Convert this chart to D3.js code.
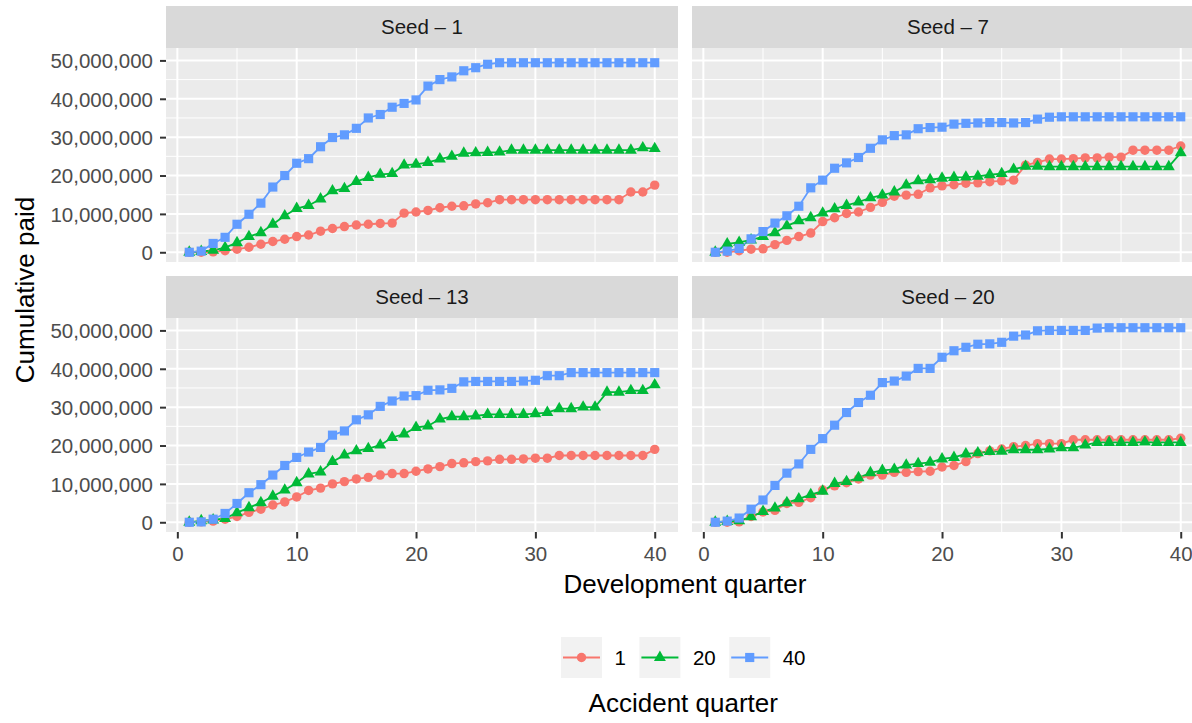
<!DOCTYPE html>
<html>
<head>
<meta charset="utf-8">
<script src="https://cdn.jsdelivr.net/npm/d3@7"></script>
<style>
  body { margin: 0; background: #fff; }
  svg { display: block; font-family: "Liberation Sans", Arial, sans-serif; }
</style>
</head>
<body>
<svg id="chart" width="1192" height="723"></svg>
<script>
// cumulative paid, in millions, for development quarters 1..40
var devQuarters = d3.range(1, 41);
var seeds = ["Seed \u2013 1", "Seed \u2013 7", "Seed \u2013 13", "Seed \u2013 20"];
var accidentQuarters = ["1", "20", "40"];

var seed1_aq1 = [0, 0, 0.1, 0.4, 0.8, 1.3, 2.1, 2.8, 3.4, 4.1, 4.5, 5.5, 6.2, 6.7, 7.1, 7.3, 7.5, 7.6, 10.2, 10.5,
  10.9, 11.6, 12.0, 12.1, 12.6, 12.9, 13.7, 13.7, 13.7, 13.7, 13.7, 13.7, 13.7, 13.7, 13.7, 13.7, 13.7, 15.7, 15.7, 17.5];
var seed1_aq20 = [0, 0.2, 0.5, 1.2, 2.5, 4.1, 5.1, 7.3, 9.5, 11.4, 12.2, 13.9, 16.0, 16.6, 18.4, 19.5, 20.3, 20.5, 22.7, 22.9,
  23.4, 24.3, 25.0, 25.8, 25.9, 26.0, 26.1, 26.6, 26.6, 26.6, 26.6, 26.6, 26.6, 26.6, 26.6, 26.6, 26.6, 26.6, 27.2, 27.0];
var seed1_aq40 = [0, 0.3, 2.3, 3.9, 7.3, 9.9, 12.8, 17.0, 20.0, 23.2, 24.4, 27.5, 29.9, 30.6, 32.3, 35.0, 35.9, 37.8, 38.8, 39.7,
  43.3, 45.0, 45.7, 47.3, 48.1, 49.0, 49.4, 49.4, 49.4, 49.4, 49.4, 49.4, 49.4, 49.4, 49.4, 49.4, 49.4, 49.4, 49.4, 49.4];

var seed7_aq1 = [0, 0, 0.4, 0.8, 0.9, 2.0, 3.1, 4.1, 5.0, 8.0, 9.0, 10.1, 10.5, 11.7, 13.0, 14.6, 14.9, 15.1, 16.8, 17.3,
  17.6, 18.0, 18.1, 18.4, 18.6, 18.8, 22.7, 23.4, 24.3, 24.3, 24.4, 24.6, 24.6, 24.8, 24.8, 26.6, 26.6, 26.6, 26.6, 27.7];
var seed7_aq20 = [0, 2.2, 2.6, 3.2, 4.1, 5.1, 6.9, 8.2, 9.0, 10.2, 11.3, 12.2, 13.1, 14.2, 14.9, 15.7, 17.5, 18.6, 18.9, 19.3,
  19.5, 19.6, 19.8, 20.2, 20.5, 21.6, 22.4, 22.4, 22.3, 22.3, 22.3, 22.3, 22.3, 22.3, 22.3, 22.3, 22.3, 22.3, 22.3, 25.9];
var seed7_aq40 = [0, 0.3, 1.0, 3.5, 5.4, 7.6, 9.5, 12.0, 16.8, 18.8, 21.9, 23.3, 24.7, 27.1, 29.3, 30.4, 30.6, 32.2, 32.5, 32.6,
  33.4, 33.6, 33.7, 33.8, 33.8, 33.7, 33.8, 34.7, 35.2, 35.3, 35.3, 35.3, 35.3, 35.3, 35.3, 35.3, 35.3, 35.3, 35.3, 35.3];

var seed13_aq1 = [0, 0.1, 0.3, 0.8, 1.5, 2.6, 3.4, 4.5, 5.3, 6.6, 8.3, 8.9, 10.0, 10.6, 11.3, 11.7, 12.3, 12.7, 12.7, 13.3,
  13.9, 14.5, 15.3, 15.5, 15.8, 16.0, 16.4, 16.4, 16.5, 16.7, 16.7, 17.4, 17.4, 17.4, 17.4, 17.4, 17.4, 17.4, 17.4, 19.0];
var seed13_aq20 = [0, 0.4, 0.6, 1.0, 2.5, 3.8, 5.1, 6.8, 8.4, 10.3, 12.6, 13.1, 15.8, 17.5, 18.6, 19.2, 20.1, 22.1, 23.0, 24.7,
  25.1, 26.9, 27.5, 27.5, 27.7, 28.1, 28.1, 28.1, 28.1, 28.3, 28.6, 29.6, 29.6, 30.0, 30.0, 33.9, 33.9, 34.3, 34.3, 35.8];
var seed13_aq40 = [0, 0.1, 0.8, 2.3, 4.9, 7.7, 9.8, 12.3, 14.8, 16.9, 18.3, 19.5, 22.7, 23.8, 26.7, 28.0, 30.2, 31.6, 32.9, 33.0,
  34.4, 34.5, 34.9, 36.6, 36.7, 36.7, 36.7, 36.7, 36.8, 37.0, 38.2, 38.2, 39.0, 39.0, 39.0, 39.0, 39.0, 39.0, 39.0, 39.0];

var seed20_aq1 = [0, 0, 0.1, 1.5, 2.7, 3.1, 4.9, 5.2, 6.4, 8.4, 9.5, 10.3, 11.3, 12.3, 12.3, 13.0, 13.0, 13.2, 13.3, 14.4,
  14.8, 15.8, 17.9, 18.6, 19.1, 19.7, 20.0, 20.5, 20.5, 20.5, 21.5, 21.5, 21.5, 21.5, 21.5, 21.5, 21.5, 21.5, 21.5, 21.9];
var seed20_aq20 = [0, 0.2, 0.4, 1.4, 2.8, 3.7, 5.1, 6.1, 7.2, 8.1, 10.1, 10.6, 11.6, 12.9, 13.5, 13.8, 14.9, 15.3, 15.6, 16.5,
  16.9, 17.8, 18.1, 18.4, 18.5, 18.9, 18.9, 18.9, 19.1, 19.4, 19.4, 20.1, 20.8, 20.8, 20.8, 20.8, 20.9, 20.8, 20.8, 20.8];
var seed20_aq40 = [0, 0.3, 1.1, 3.4, 5.8, 9.6, 12.8, 15.2, 19.0, 21.8, 25.3, 28.6, 31.2, 33.1, 36.4, 36.8, 38.1, 40.1, 40.1, 43.0,
  44.7, 45.6, 46.4, 46.5, 46.9, 48.5, 48.8, 49.9, 50.0, 50.0, 50.0, 50.0, 50.6, 50.7, 50.7, 50.7, 50.7, 50.7, 50.7, 50.7];

var xTicks = [0, 10, 20, 30, 40];
var yTicks = [0, 10e6, 20e6, 30e6, 40e6, 50e6];

var panelSeries = [
  [seed1_aq1, seed1_aq20, seed1_aq40],
  [seed7_aq1, seed7_aq20, seed7_aq40],
  [seed13_aq1, seed13_aq20, seed13_aq40],
  [seed20_aq1, seed20_aq20, seed20_aq40]
];

var colors = ["#F8766D", "#00BA38", "#619CFF"];
var shapes = [d3.symbolCircle, d3.symbolTriangle, d3.symbolSquare];
var shapeSizes = [70, 62, 84];

// layout
var svg = d3.select("#chart"),
    padLeft = 166, padTop = 6,
    panelW = 512, panelH = 214,
    stripH = 42, gapX = 14, gapY = 14;

var panels = seeds.map(function(name, i) {
  return {
    name: name,
    col: i % 2,
    row: Math.floor(i / 2),
    series: panelSeries[i].map(function(vals, k) {
      return {
        id: accidentQuarters[k],
        k: k,
        values: vals.map(function(v, j) { return {dev: devQuarters[j], paid: v * 1e6}; })
      };
    })
  };
});

var allPaid = [];
panels.forEach(function(p) { p.series.forEach(function(s) { s.values.forEach(function(d) { allPaid.push(d.paid); }); }); });
var yMin = d3.min(allPaid), yMax = d3.max(allPaid), ySpan = yMax - yMin;

var x = d3.scaleLinear().domain([1 - 0.05 * 39, 40 + 0.05 * 39]).range([0, panelW]);
var y = d3.scaleLinear().domain([yMin - 0.05 * ySpan, yMax + 0.05 * ySpan]).range([panelH, 0]);

var xMinor = [5, 15, 25, 35];
var yMinor = [5e6, 15e6, 25e6, 35e6, 45e6];

var line = d3.line()
  .x(function(d) { return x(d.dev); })
  .y(function(d) { return y(d.paid); });

var fmt = d3.format(",");

var g = svg.selectAll(".panel")
  .data(panels)
  .enter().append("g")
  .attr("class", "panel")
  .attr("transform", function(d) {
    return "translate(" + (padLeft + d.col * (panelW + gapX)) + "," + (padTop + d.row * (stripH + panelH + gapY)) + ")";
  });

// strip
g.append("rect")
  .attr("width", panelW).attr("height", stripH)
  .attr("fill", "#D9D9D9");
g.append("text")
  .attr("x", panelW / 2).attr("y", stripH / 2 + 7)
  .attr("text-anchor", "middle")
  .attr("font-size", 20.5)
  .attr("fill", "#1A1A1A")
  .text(function(d) { return d.name; });

var body = g.append("g").attr("transform", "translate(0," + stripH + ")");

body.append("rect")
  .attr("width", panelW).attr("height", panelH)
  .attr("fill", "#EBEBEB");

// minor grid
body.selectAll(".xminor").data(xMinor).enter().append("line")
  .attr("x1", x).attr("x2", x).attr("y1", 0).attr("y2", panelH)
  .attr("stroke", "#fff").attr("stroke-width", 1);
body.selectAll(".yminor").data(yMinor).enter().append("line")
  .attr("y1", y).attr("y2", y).attr("x1", 0).attr("x2", panelW)
  .attr("stroke", "#fff").attr("stroke-width", 1);
// major grid
body.selectAll(".xmajor").data(xTicks).enter().append("line")
  .attr("x1", x).attr("x2", x).attr("y1", 0).attr("y2", panelH)
  .attr("stroke", "#fff").attr("stroke-width", 2);
body.selectAll(".ymajor").data(yTicks).enter().append("line")
  .attr("y1", y).attr("y2", y).attr("x1", 0).attr("x2", panelW)
  .attr("stroke", "#fff").attr("stroke-width", 2);

// lines first, then points (like geom_line + geom_point)
body.selectAll(".line")
  .data(function(d) { return d.series; })
  .enter().append("path")
  .attr("class", "line")
  .attr("fill", "none")
  .attr("stroke", function(s) { return colors[s.k]; })
  .attr("stroke-width", 1.8)
  .attr("d", function(s) { return line(s.values); });

body.selectAll(".pts")
  .data(function(d) { return d.series; })
  .enter().append("g")
  .attr("class", "pts")
  .each(function(s) {
    d3.select(this).selectAll("path")
      .data(s.values)
      .enter().append("path")
      .attr("transform", function(d) { return "translate(" + x(d.dev) + "," + y(d.paid) + ")"; })
      .attr("d", d3.symbol().type(shapes[s.k]).size(shapeSizes[s.k]))
      .attr("fill", colors[s.k]);
  });

// axes: x on bottom row, y on left column
function styleAxis(sel) {
  sel.select(".domain").remove();
  sel.selectAll(".tick line").attr("stroke", "#333333").attr("stroke-width", 2);
  sel.selectAll(".tick text").attr("fill", "#4D4D4D").attr("font-size", 20.5)
    .attr("font-family", "'Liberation Sans', Arial, sans-serif");
}

body.filter(function(d) { return d.row === 1; })
  .append("g")
  .attr("transform", "translate(0," + panelH + ")")
  .call(d3.axisBottom(x).tickValues(xTicks).tickSize(6.5).tickPadding(8))
  .call(styleAxis);

body.filter(function(d) { return d.col === 0; })
  .append("g")
  .call(d3.axisLeft(y).tickValues(yTicks).tickFormat(fmt).tickSize(6).tickPadding(7))
  .call(styleAxis)
  .selectAll(".tick text").attr("dy", "0.36em");

// axis titles
var plotLeft = padLeft, plotRight = padLeft + 2 * panelW + gapX;
var panelsTop = padTop + stripH, panelsBottom = padTop + 2 * (stripH + panelH) + gapY;

svg.append("text")
  .attr("x", (plotLeft + plotRight) / 2).attr("y", 592.5)
  .attr("text-anchor", "middle").attr("font-size", 26).attr("fill", "#000")
  .text("Development quarter");

svg.append("text")
  .attr("transform", "translate(33.5," + ((panelsTop + panelsBottom) / 2) + ") rotate(-90)")
  .attr("text-anchor", "middle").attr("font-size", 26).attr("fill", "#000")
  .text("Cumulative paid");

// legend
var legend = svg.append("g").attr("class", "legend");
var keySize = 41, keyY = 637, keyLabelGap = 12.5, itemGap = 13.5;
var cursor = 561;
accidentQuarters.forEach(function(aq, k) {
  var item = legend.append("g").attr("transform", "translate(" + cursor + "," + keyY + ")");
  item.append("rect").attr("width", keySize).attr("height", keySize).attr("fill", "#F2F2F2");
  item.append("line")
    .attr("x1", 2).attr("x2", keySize - 2)
    .attr("y1", keySize / 2).attr("y2", keySize / 2)
    .attr("stroke", colors[k]).attr("stroke-width", 1.8);
  item.append("path")
    .attr("transform", "translate(" + keySize / 2 + "," + keySize / 2 + ")")
    .attr("d", d3.symbol().type(shapes[k]).size(shapeSizes[k]))
    .attr("fill", colors[k]);
  var label = item.append("text")
    .attr("x", keySize + keyLabelGap).attr("y", keySize / 2 + 7.3)
    .attr("font-size", 20.5).attr("fill", "#000")
    .text(aq);
  cursor += keySize + keyLabelGap + label.node().getComputedTextLength() + itemGap;
});
var legendRight = cursor - itemGap;

legend.append("text")
  .attr("x", (561 + legendRight) / 2).attr("y", 712)
  .attr("text-anchor", "middle").attr("font-size", 26).attr("fill", "#000")
  .text("Accident quarter");
</script>
</body>
</html>
